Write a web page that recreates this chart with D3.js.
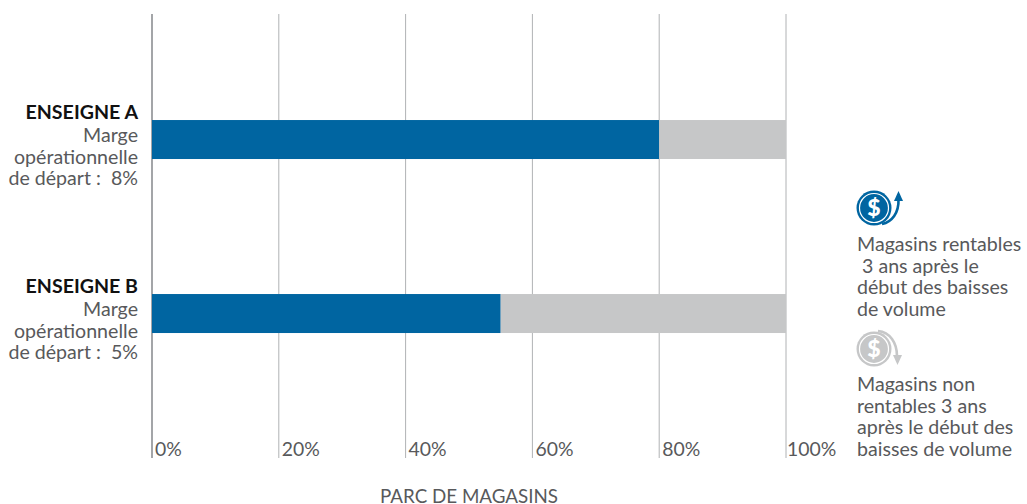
<!DOCTYPE html>
<html>
<head>
<meta charset="utf-8">
<script src="https://cdnjs.cloudflare.com/ajax/libs/d3/7.8.5/d3.min.js"></script>
<style>
  html, body { margin: 0; padding: 0; background: #fff; overflow: hidden; }
  text { font-family: Lato, sans-serif; fill: #58595b; font-size: 19.6px; }
</style>
</head>
<body>
<script>
const stores = ['ENSEIGNE A', 'ENSEIGNE B'];
const profitable = [80, 55];
const unprofitable = [20, 45];
const startMargins = ['8%', '5%'];
const ticks = [0, 20, 40, 60, 80, 100];
const legendProfit = ['Magasins rentables', ' 3 ans après le', 'début des baisses', 'de volume'];
const legendLoss = ['Magasins non', 'rentables 3 ans', 'après le début des', 'baisses de volume'];

const width = 1027, height = 504;
const blue = '#0065a1', grey = '#c6c7c8';

const svg = d3.select('body').append('svg')
  .attr('width', width)
  .attr('height', height)
  .style('display', 'block');

const x = d3.scaleLinear().domain([0, 100]).range([152, 786]);
const y = d3.scaleBand().domain(stores).range([14, 458])
  .paddingInner(0.7759).paddingOuter(0.6638).align(0.459);

// grid lines
svg.selectAll('line.grid')
  .data(ticks)
  .enter()
  .append('line')
  .attr('class', 'grid')
  .attr('x1', d => x(d))
  .attr('x2', d => x(d))
  .attr('y1', y.range()[0])
  .attr('y2', y.range()[1])
  .attr('stroke', d => d === 0 ? '#a3a5a8' : '#b0b2b4')
  .attr('stroke-width', d => d === 0 ? 2 : 1);

// bars
svg.selectAll('rect.profit')
  .data(stores)
  .enter()
  .append('rect')
  .attr('class', 'profit')
  .attr('x', x(0))
  .attr('y', d => y(d))
  .attr('width', (d, i) => x(profitable[i]) - x(0))
  .attr('height', y.bandwidth())
  .attr('fill', blue);

svg.selectAll('rect.loss')
  .data(stores)
  .enter()
  .append('rect')
  .attr('class', 'loss')
  .attr('x', (d, i) => x(profitable[i]))
  .attr('y', d => y(d))
  .attr('width', (d, i) => x(profitable[i] + unprofitable[i]) - x(profitable[i]))
  .attr('height', y.bandwidth())
  .attr('fill', grey);

// tick labels
svg.selectAll('text.tick')
  .data(ticks)
  .enter()
  .append('text')
  .attr('class', 'tick')
  .attr('x', d => x(d) + (d === 100 ? 1 : 3))
  .attr('y', 456)
  .style('font-size', '19.4px')
  .text(d => d + '%');

svg.append('text')
  .attr('x', 469)
  .attr('y', 503)
  .attr('text-anchor', 'middle')
  .style('font-size', '18.8px')
  .text('PARC DE MAGASINS');

// category labels
stores.forEach((s, i) => {
  const top = y(s);
  svg.append('text').attr('x', 138).attr('y', top - 1).attr('text-anchor', 'end')
    .style('fill', '#111').style('font-weight', 700).text(s);
  svg.append('text').attr('x', 138).attr('y', top + 22).attr('text-anchor', 'end').text('Marge');
  svg.append('text').attr('x', 138).attr('y', top + 44).attr('text-anchor', 'end').text('opérationnelle');
  svg.append('text').attr('x', 138).attr('y', top + 65).attr('text-anchor', 'end')
    .style('white-space', 'pre')
    .text('de départ :  ' + startMargins[i]);
});

// legend
function legendText(lines, y0) {
  svg.selectAll(null)
    .data(lines)
    .enter()
    .append('text')
    .attr('x', 857)
    .attr('y', (d, i) => y0 + i * 21.5)
    .style('white-space', 'pre')
    .text(d => d);
}
legendText(legendProfit, 251);
legendText(legendLoss, 391);

function coin(cx, cy, color, up) {
  const g = svg.append('g').attr('transform', 'translate(' + cx + ',' + cy + ')');
  g.append('circle').attr('r', 17.5).attr('fill', color);
  g.append('circle').attr('r', 14.5).attr('fill', 'none').attr('stroke', '#fff').attr('stroke-width', 1.2);
  g.append('text').attr('text-anchor', 'middle').attr('y', 8)
    .style('fill', '#fff').style('font-weight', 900).style('font-size', '23px').text('$');
  // curved arrow round the coin
  if (up) {
    g.append('path').attr('d', 'M8,16 C18,14 25,5 24.5,-9').attr('fill', 'none').attr('stroke', color).attr('stroke-width', 2.6);
    g.append('path').attr('d', 'M24.5,-17 L29,-7 L20,-7 Z').attr('fill', color);
  } else {
    g.append('path').attr('d', 'M4,-18 C16,-17 23,-6 23,7').attr('fill', 'none').attr('stroke', color).attr('stroke-width', 2.6);
    g.append('path').attr('d', 'M23.5,16 L19,6 L28,6 Z').attr('fill', color);
  }
}
coin(874, 208, blue, true);
coin(874, 349, grey, false);
</script>
</body>
</html>
